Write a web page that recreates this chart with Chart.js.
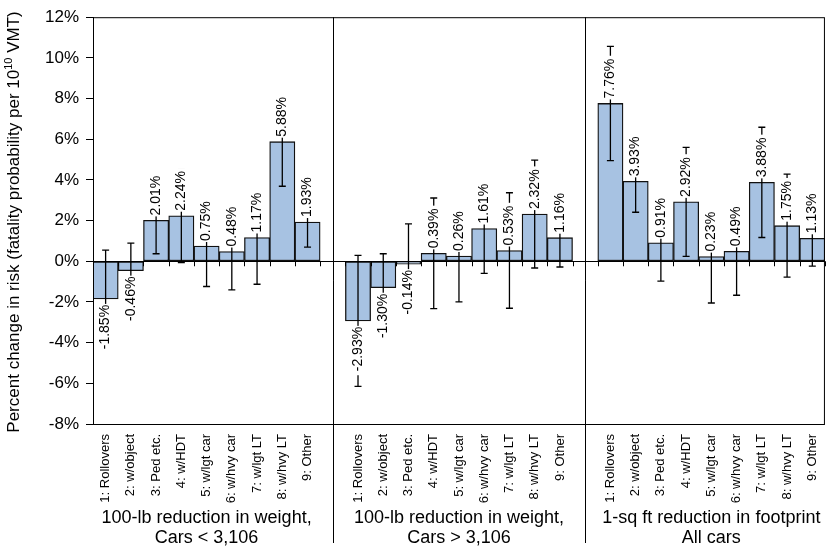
<!DOCTYPE html>
<html>
<head>
<meta charset="utf-8">
<script src="https://cdn.jsdelivr.net/npm/chart.js@4.4.0/dist/chart.umd.min.js"></script>
<style>
  html, body { margin: 0; padding: 0; background: #fff; }
  #wrap { width: 830px; height: 550px; position: relative; }
</style>
</head>
<body>
<div id="wrap"><canvas id="chart"></canvas></div>
<script>
// Categories (same in each panel)
const categories = ['1: Rollovers', '2: w/object', '3: Ped etc.', '4: w/HDT', '5: w/lgt car',
                    '6: w/hvy car', '7: w/lgt LT', '8: w/hvy LT', '9: Other'];

// Panel values (% change) and error half-widths
const lightCarsValues = [-1.85, -0.46, 2.01, 2.24, 0.75, 0.48, 1.17, 5.88, 1.93];
const lightCarsErr    = [2.40, 1.35, 1.64, 2.30, 1.99, 1.89, 2.30, 2.19, 1.23];
const heavyCarsValues = [-2.93, -1.30, -0.14, 0.39, 0.26, 1.61, 0.53, 2.32, 1.16];
const heavyCarsErr    = [3.22, 1.67, 1.98, 2.72, 2.26, 2.20, 2.84, 2.65, 1.44];
const footprintValues = [7.76, 3.93, 0.91, 2.92, 0.23, 0.49, 3.88, 1.75, 1.13];
const footprintErr    = [2.81, 1.52, 1.89, 2.68, 2.28, 2.16, 2.71, 2.53, 1.37];

const groupTitles = [
  ['100-lb reduction in weight,', 'Cars < 3,106'],
  ['100-lb reduction in weight,', 'Cars > 3,106'],
  ['1-sq ft reduction in footprint', 'All cars']
];

const yTicks = [-8, -6, -4, -2, 0, 2, 4, 6, 8, 10, 12];

// one axis of 29 slots: panel, blank, panel, blank, panel
const labels = [...categories, '', ...categories, '', ...categories];
const values = [...lightCarsValues, null, ...heavyCarsValues, null, ...footprintValues];
const errors = [...lightCarsErr, null, ...heavyCarsErr, null, ...footprintErr];
const gapIdx = [9, 19];

const FONT = '"Liberation Sans", Arial, sans-serif';

const decorPlugin = {
  id: 'decor',
  afterDatasetsDraw(chart) {
    const { ctx, chartArea: a, scales: { x, y } } = chart;
    const meta = chart.getDatasetMeta(0);
    const y0 = y.getPixelForValue(0);
    ctx.save();

    // plot box
    ctx.strokeStyle = '#000';
    ctx.lineWidth = 1;
    ctx.strokeRect(a.left + 0.5, a.top + 0.5, a.right - a.left - 1, a.bottom - a.top);

    // zero line + category tick marks
    ctx.beginPath();
    ctx.moveTo(a.left, Math.round(y0) + 0.5);
    ctx.lineTo(a.right, Math.round(y0) + 0.5);
    const step = (x.getPixelForValue(1) - x.getPixelForValue(0));
    for (let i = 0; i <= labels.length; i++) {
      const px = Math.round(x.getPixelForValue(0) - step / 2 + i * step) + 0.5;
      ctx.moveTo(px, y0);
      ctx.lineTo(px, y0 + 5);
    }
    ctx.stroke();

    // panel separators
    ctx.beginPath();
    gapIdx.forEach(i => {
      const px = Math.round(x.getPixelForValue(i)) + 0.5;
      ctx.moveTo(px, a.top);
      ctx.lineTo(px, 543);
    });
    ctx.stroke();

    // error bars
    ctx.lineWidth = 1.3;
    ctx.strokeStyle = '#000';
    values.forEach((v, i) => {
      if (v === null) return;
      const bar = meta.data[i];
      const hi = y.getPixelForValue(v + errors[i]);
      const lo = y.getPixelForValue(v - errors[i]);
      ctx.beginPath();
      ctx.moveTo(bar.x, hi);
      ctx.lineTo(bar.x, lo);
      ctx.moveTo(bar.x - 3.5, hi);
      ctx.lineTo(bar.x + 3.5, hi);
      ctx.moveTo(bar.x - 3.5, lo);
      ctx.lineTo(bar.x + 3.5, lo);
      ctx.stroke();
    });

    // value labels, white box behind
    ctx.font = '14px ' + FONT;
    ctx.textBaseline = 'middle';
    values.forEach((v, i) => {
      if (v === null) return;
      const bar = meta.data[i];
      const txt = v.toFixed(2) + '%';
      const w = ctx.measureText(txt).width;
      ctx.save();
      if (v >= 0) {
        ctx.translate(bar.x, bar.y - 5);
        ctx.rotate(-Math.PI / 2);
        ctx.fillStyle = '#fff';
        ctx.fillRect(-1, -7, w + 4, 14);
        ctx.fillStyle = '#000';
        ctx.textAlign = 'left';
      } else {
        ctx.translate(bar.x, bar.y + 6);
        ctx.rotate(-Math.PI / 2);
        ctx.fillStyle = '#fff';
        ctx.fillRect(-w - 4, -7, w + 5, 14);
        ctx.fillStyle = '#000';
        ctx.textAlign = 'right';
      }
      ctx.fillText(txt, 0, 0);
      ctx.restore();
    });
    ctx.restore();
  },
  afterDraw(chart) {
    const { ctx, scales: { x } } = chart;
    ctx.save();
    ctx.fillStyle = '#000';

    // group titles under each panel
    ctx.font = '18px ' + FONT;
    ctx.textAlign = 'center';
    ctx.textBaseline = 'middle';
    groupTitles.forEach((lines, g) => {
      const start = g * 10;
      const cx = (x.getPixelForValue(start) + x.getPixelForValue(start + 8)) / 2;
      ctx.fillText(lines[0], cx, 518);
      ctx.fillText(lines[1], cx, 538);
    });

    // y axis title with superscript
    const big = '17px ' + FONT, small = '11px ' + FONT;
    const p1 = 'Percent change in risk (fatality probability per 10';
    const p2 = '10';
    const p3 = ' VMT)';
    ctx.font = big;
    const w1 = ctx.measureText(p1).width, w3 = ctx.measureText(p3).width;
    ctx.font = small;
    const w2 = ctx.measureText(p2).width;
    const total = w1 + w2 + w3;
    ctx.translate(14, 222);
    ctx.rotate(-Math.PI / 2);
    ctx.textAlign = 'left';
    ctx.textBaseline = 'middle';
    let cx = -total / 2;
    ctx.font = big;
    ctx.fillText(p1, cx, 0);
    cx += w1;
    ctx.font = small;
    ctx.fillText(p2, cx, -5);
    cx += w2;
    ctx.font = big;
    ctx.fillText(p3, cx, 0);
    ctx.restore();
  }
};

new Chart(document.getElementById('chart'), {
  type: 'bar',
  data: {
    labels: labels,
    datasets: [{
      data: values,
      backgroundColor: '#a7c2e2',
      borderColor: '#111',
      borderWidth: 1.3,
      borderSkipped: false,
      barPercentage: 1,
      categoryPercentage: 1
    }]
  },
  options: {
    responsive: true,
    maintainAspectRatio: false,
    animation: false,
    layout: { padding: { top: 12, right: 5, left: 0, bottom: 0 } },
    plugins: { legend: { display: false }, tooltip: { enabled: false } },
    scales: {
      x: {
        grid: { display: false },
        border: { display: false },
        ticks: {
          autoSkip: false,
          minRotation: 90,
          maxRotation: 90,
          padding: 2,
          color: '#000',
          font: { family: FONT, size: 13 }
        },
        afterFit(scale) { scale.height = 126; }
      },
      y: {
        min: -8,
        max: 12,
        afterBuildTicks(scale) { scale.ticks = yTicks.map(v => ({ value: v })); },
        grid: { drawOnChartArea: false, tickLength: 7, color: '#000' },
        border: { display: true, color: '#000' },
        ticks: {
          padding: 7,
          color: '#000',
          font: { family: FONT, size: 17 },
          callback: v => v + '%'
        },
        afterFit(scale) { scale.width = 93; }
      }
    }
  },
  plugins: [decorPlugin]
});
</script>
</body>
</html>
